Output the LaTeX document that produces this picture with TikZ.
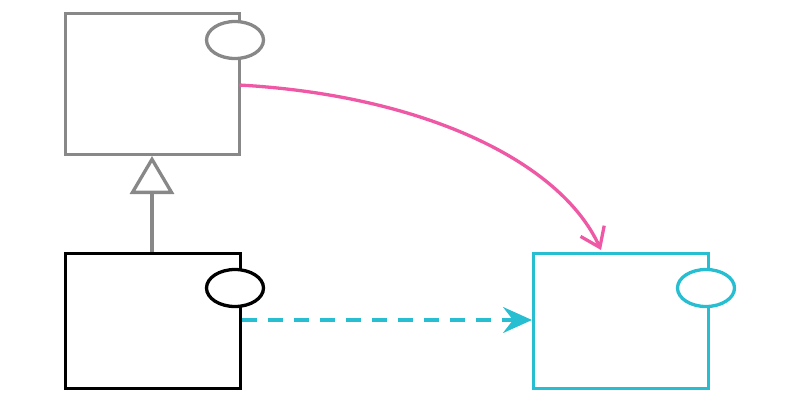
\documentclass[tikz,border=0pt]{standalone}
\usetikzlibrary{arrows.meta,shapes.geometric}
\definecolor{compgray}{RGB}{136,136,136}
\definecolor{compteal}{RGB}{38,190,208}
\definecolor{comppink}{RGB}{238,88,164}
\tikzset{
  comp/.style={draw=#1, line width=3.3pt, fill=white, minimum width=174pt, minimum height=136pt, inner sep=0pt, anchor=north west},
  port/.style={draw=#1, line width=3.3pt, fill=white, ellipse, minimum width=57pt, minimum height=37pt, inner sep=0pt},
  gen/.style={draw=compgray, line width=3.3pt, -{Triangle[open, length=38pt, width=44pt, line width=3.3pt]}},
  dep/.style={draw=compteal, line width=3.3pt, dashed, dash pattern=on 15pt off 11pt, -{Stealth[length=29pt, width=26pt, inset=10pt]}},
  assoc/.style={draw=comppink, line width=3.3pt, -{Straight Barb[length=18pt, width=26pt, line width=3.3pt]}},
}
\begin{document}
\begin{tikzpicture}[x=1pt, y=-1pt]
\useasboundingbox (0,0) rectangle (794,413);
% components
\node[comp=compgray, minimum height=141pt] (base) at (64,12) {};
\node[port=compgray] (baseport) at (235,40) {};
\node[comp=black, minimum width=175pt, minimum height=135pt] (sub) at (64,252) {};
\node[port=black] (subport) at (235,288) {};
\node[comp=compteal, minimum width=175pt, minimum height=135pt] (target) at (532,252) {};
\node[port=compteal] (targetport) at (706,288) {};
% connectors
\coordinate (subtop) at (152,252);
\coordinate (basebot) at (152,156);
\draw[gen] (subtop) -- (basebot);
\coordinate (deplevel) at (0,320);
\draw[dep] (sub.east |- deplevel) -- (target.west |- deplevel);
\coordinate (assocstart) at (239,85);
\coordinate (assocend) at (601,250);
\draw[assoc] (assocstart) .. controls (420,95) and (560,160) .. (assocend);
\end{tikzpicture}
\end{document}
